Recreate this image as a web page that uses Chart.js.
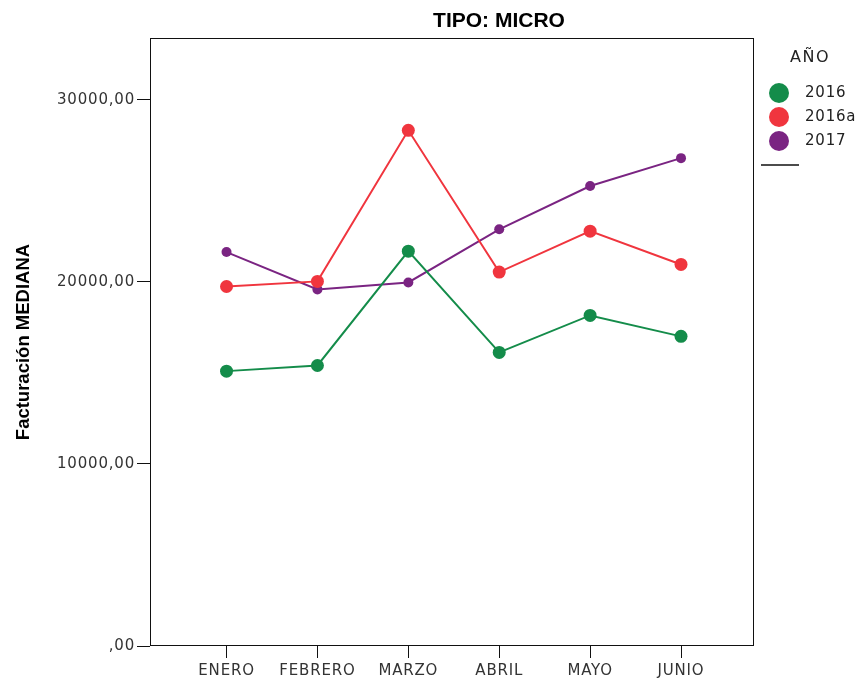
<!DOCTYPE html>
<html>
<head>
<meta charset="UTF-8">
<title>TIPO: MICRO</title>
<script src="https://cdn.jsdelivr.net/npm/chart.js@4.4.0/dist/chart.umd.min.js"></script>
<style>
  body { margin: 0; background: #fff; }
  canvas { display: block; }
</style>
</head>
<body>
<canvas id="chart" width="863" height="681"></canvas>
<script>
  const months = ['ENERO', 'FEBRERO', 'MARZO', 'ABRIL', 'MAYO', 'JUNIO'];
  const yTicks = [0, 10000, 20000, 30000];
  const sales2016 = [15100, 15410, 21690, 16130, 18160, 17010];
  const sales2016a = [19750, 20030, 28330, 20540, 22790, 20960];
  const sales2017 = [21640, 19590, 19970, 22890, 25270, 26800];
  const seriesNames = ['2016', '2016a', '2017'];
  const seriesColors = ['#148c4a', '#f0353e', '#7a2482'];
  const seriesRadius = [6.5, 6.5, 5];

  const tickFont = { family: 'DejaVu Sans', size: 15 };

  // frame, titles and the legend are drawn by hand to sit where SPSS put them
  const decor = {
    id: 'decor',
    beforeDraw(chart) {
      chart.ctx.letterSpacing = '0.8px';
    },
    beforeDatasetsDraw(chart) {
      const { ctx, chartArea: a } = chart;
      ctx.save();
      ctx.strokeStyle = '#111';
      ctx.lineWidth = 1;
      ctx.strokeRect(a.left + 0.5, a.top + 0.5, a.right - a.left - 1, a.bottom - a.top - 1);
      ctx.restore();
    },
    afterDraw(chart) {
      const ctx = chart.ctx;
      ctx.save();
      ctx.letterSpacing = '0px';
      ctx.fillStyle = '#000';
      ctx.textAlign = 'center';
      ctx.textBaseline = 'middle';
      ctx.font = 'bold 21px "Liberation Sans"';
      ctx.fillText('TIPO: MICRO', 499, 21);

      ctx.save();
      ctx.translate(24, 342);
      ctx.rotate(-Math.PI / 2);
      ctx.font = 'bold 18.5px "Liberation Sans"';
      ctx.fillText('Facturación MEDIANA', 0, 0);
      ctx.restore();

      // legend
      ctx.letterSpacing = '1.5px';
      ctx.fillStyle = '#222';
      ctx.font = '16px "DejaVu Sans"';
      ctx.fillText('AÑO', 810, 58);
      ctx.letterSpacing = '0.8px';
      ctx.font = '15px "DejaVu Sans"';
      ctx.textAlign = 'left';
      seriesNames.forEach((name, i) => {
        const y = 93 + i * 24;
        ctx.fillStyle = seriesColors[i];
        ctx.beginPath();
        ctx.arc(779, y, 10, 0, Math.PI * 2);
        ctx.fill();
        ctx.fillStyle = '#222';
        ctx.fillText(name, 805, y);
      });
      ctx.strokeStyle = '#111';
      ctx.lineWidth = 1.5;
      ctx.beginPath();
      ctx.moveTo(761, 165);
      ctx.lineTo(799, 165);
      ctx.stroke();
      ctx.restore();
    }
  };

  const allSeries = [sales2016, sales2016a, sales2017];

  new Chart(document.getElementById('chart'), {
    type: 'line',
    data: {
      datasets: allSeries.map((vals, i) => ({
        label: seriesNames[i],
        data: vals.map((y, x) => ({ x, y })),
        borderColor: seriesColors[i],
        backgroundColor: seriesColors[i],
        borderWidth: 2,
        pointRadius: seriesRadius[i],
        pointHoverRadius: seriesRadius[i],
        pointBorderWidth: 0,
        tension: 0,
        fill: false
      }))
    },
    options: {
      responsive: false,
      devicePixelRatio: 1,
      animation: false,
      events: [],
      layout: { padding: { top: 38, right: 109, left: 0, bottom: 0 } },
      plugins: {
        legend: { display: false },
        tooltip: { enabled: false },
        title: { display: false }
      },
      scales: {
        x: {
          type: 'linear',
          min: -0.842,
          max: 5.803,
          afterBuildTicks: s => { s.ticks = months.map((m, i) => ({ value: i })); },
          afterFit: s => { s.height = 35; },
          grid: { drawOnChartArea: false, drawTicks: true, tickLength: 12, color: '#111' },
          border: { display: false },
          ticks: {
            autoSkip: false,
            maxRotation: 0,
            padding: 4,
            font: tickFont,
            color: '#333',
            callback: v => months[v]
          }
        },
        y: {
          min: 0,
          max: 33400,
          afterBuildTicks: s => { s.ticks = yTicks.map(v => ({ value: v })); },
          afterFit: s => { s.width = 150; },
          grid: { drawOnChartArea: false, drawTicks: true, tickLength: 13, color: '#111' },
          border: { display: false },
          ticks: {
            padding: 2,
            font: tickFont,
            color: '#333',
            callback: v => v === 0 ? ',00' : v + ',00'
          }
        }
      }
    },
    plugins: [decor]
  });
</script>
</body>
</html>
